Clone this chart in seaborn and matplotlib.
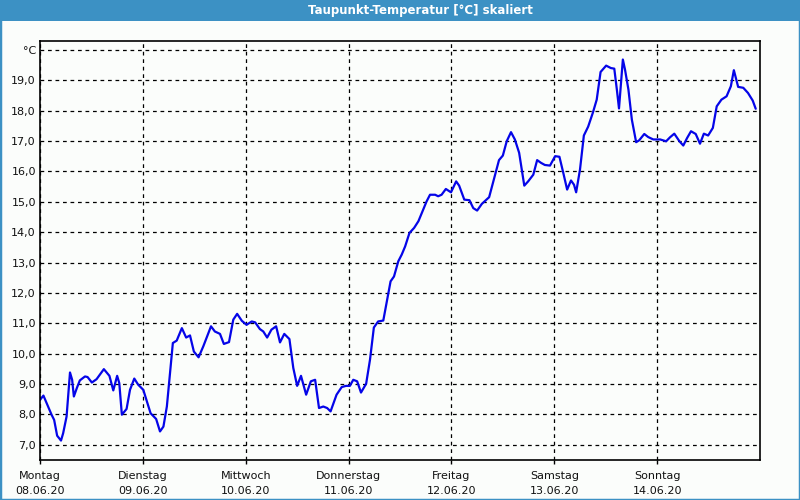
import matplotlib
matplotlib.use("Agg")
import matplotlib.pyplot as plt
import seaborn as sns
import pandas as pd
from matplotlib.patches import Rectangle

# ---- data (hours since Montag 08.06.20 00:00, dew point in °C) ----
hours = [0, 0.8, 2.7, 3.3, 4.0, 4.9, 5.4, 6.2, 7.0, 7.5, 7.9, 8.6, 9.3, 10.5, 11.1, 12.1,
         13.2, 14.9, 16.2, 17.1, 18.0, 18.5, 19.1, 20.2, 21.0, 22.0, 22.9, 24.1, 25.8, 27.1,
         28.0, 28.8, 29.6, 31.0, 31.9, 33.1, 34.1, 35.0, 35.9, 37.0, 38.1, 39.9, 40.8, 42.0,
         42.9, 44.1, 45.1, 46.0, 47.1, 48.2, 49.4, 50.2, 51.3, 52.1, 53.0, 54.0, 55.1, 56.0,
         57.0, 58.2, 59.1, 60.0, 60.9, 62.1, 63.2, 64.2, 65.1, 66.1, 67.0, 67.8, 69.2, 70.4,
         71.4, 72.3, 73.1, 74.0, 74.9, 76.1, 77.0, 77.9, 78.9, 80.1, 81.0, 81.8, 82.6, 83.6,
         84.4, 85.2, 86.2, 87.3, 88.3, 89.4, 90.2, 91.0, 92.2, 92.9, 93.7, 94.7, 95.9, 97.1,
         97.8, 99.0, 100.2, 101.1, 102.0, 103.1, 104.8, 105.9, 107.1, 108.0, 108.9, 109.9,
         110.8, 111.8, 113.0, 113.9, 115.1, 116.0, 116.9, 117.8, 119.0, 120.2, 121.2, 122.1,
         123.0, 123.9, 124.6, 125.1, 126.0, 126.9, 127.9, 129.0, 129.9, 130.8, 132.1, 133.2,
         134.0, 134.6, 135.1, 135.5, 136.0, 136.5, 137.3, 138.1, 139.1, 139.8, 141.0, 141.9,
         143.1, 144.7, 146.1, 147.0, 148.0, 149.2, 150.1, 151.0, 151.9, 153.0, 154.0, 154.9,
         155.9, 157.0, 157.9, 159.0, 160.2, 161.2, 161.9, 162.9, 164.1, 165.2, 166.3, 167.0]
dewpoint = [8.48, 8.62, 7.99, 7.82, 7.30, 7.14, 7.38, 7.93, 9.38, 9.14, 8.59, 8.87, 9.12, 9.25, 9.23, 9.05,
            9.16, 9.49, 9.27, 8.79, 9.27, 9.03, 7.99, 8.18, 8.81, 9.18, 8.98, 8.81, 8.04, 7.85,
            7.44, 7.60, 8.26, 10.35, 10.43, 10.84, 10.53, 10.60, 10.07, 9.88, 10.24, 10.90, 10.73, 10.65,
            10.32, 10.38, 11.12, 11.31, 11.08, 10.95, 11.06, 11.03, 10.81, 10.73, 10.53, 10.79, 10.90, 10.37,
            10.65, 10.48, 9.53, 8.94, 9.27, 8.65, 9.09, 9.14, 8.21, 8.26, 8.21, 8.10, 8.65, 8.90,
            8.94, 8.94, 9.14, 9.09, 8.72, 9.01, 9.80, 10.86, 11.06, 11.09, 11.78, 12.38, 12.54, 13.04,
            13.26, 13.53, 13.97, 14.14, 14.36, 14.74, 15.01, 15.23, 15.23, 15.18, 15.23, 15.42, 15.31, 15.67,
            15.53, 15.07, 15.05, 14.79, 14.71, 14.93, 15.15, 15.73, 16.37, 16.52, 16.99, 17.29,
            17.05, 16.61, 15.53, 15.67, 15.89, 16.37, 16.28, 16.21, 16.19, 16.50, 16.48, 15.95,
            15.40, 15.70, 15.56, 15.31, 16.06, 17.18, 17.47, 17.93, 18.36, 19.27, 19.48, 19.40,
            19.38, 18.69, 18.07, 18.80, 19.68, 19.35, 18.69, 17.70, 16.96, 17.02, 17.23, 17.13,
            17.05, 17.05, 16.99, 17.12, 17.24, 16.99, 16.85, 17.10, 17.32, 17.23, 16.91, 17.24,
            17.18, 17.43, 18.14, 18.36, 18.47, 18.80, 19.33, 18.78, 18.75, 18.58, 18.33, 18.06]

day_names = ["Montag", "Dienstag", "Mittwoch", "Donnerstag", "Freitag", "Samstag", "Sonntag"]
day_dates = ["08.06.20", "09.06.20", "10.06.20", "11.06.20", "12.06.20", "13.06.20", "14.06.20"]
y_ticks = [7, 8, 9, 10, 11, 12, 13, 14, 15, 16, 17, 18, 19, 20]
y_labels = ["7,0", "8,0", "9,0", "10,0", "11,0", "12,0", "13,0", "14,0", "15,0",
            "16,0", "17,0", "18,0", "19,0", "°C"]
title = "Taupunkt-Temperatur [°C] skaliert"

assert len(hours) == len(dewpoint)
df = pd.DataFrame({"hour": hours, "dewpoint": dewpoint})

sns.set_theme(style="white")
plt.rcParams["font.family"] = ["DejaVu Sans"]

bg = "#fbfdfb"
frame_blue = "#3c91c4"

fig = plt.figure(figsize=(8, 5), dpi=100, facecolor=bg)
ax = fig.add_axes([40 / 800, 40 / 500, 720 / 800, (460 - 40.7) / 500])
ax.set_facecolor(bg)

sns.lineplot(data=df, x="hour", y="dewpoint", ax=ax, color="#0505e8",
             linewidth=1.6, sort=False, estimator=None)

ax.set_xlim(0, 168)
ax.set_ylim(6.5, 20.3)
ax.set_xticks([24 * i for i in range(7)])
ax.set_xticklabels([f"{n}\n{d}" for n, d in zip(day_names, day_dates)],
                   fontsize=8, color="#111111", linespacing=1.55)
ax.set_yticks(y_ticks)
ax.set_yticklabels(y_labels, fontsize=8, color="#111111")
ax.set_xlabel("")
ax.set_ylabel("")
ax.grid(True, color="black", linestyle=(0, (3, 3)), linewidth=0.9)
ax.tick_params(axis="x", which="major", length=3, width=1, color="black", pad=5, direction="out", bottom=True)
ax.tick_params(axis="y", which="major", length=0, pad=3, left=True)
for s in ax.spines.values():
    s.set_color("black")
    s.set_linewidth(1.2)

# window frame and title bar
fig.patches.append(Rectangle((0, 1 - 21 / 500), 1, 21 / 500, transform=fig.transFigure,
                             facecolor=frame_blue, edgecolor="none", zorder=0))
fig.patches.append(Rectangle((0, 0), 1, 1, transform=fig.transFigure, facecolor="none",
                             edgecolor=frame_blue, linewidth=2.5, zorder=5))
fig.text(420 / 800, 1 - 10.5 / 500, title, color="white", fontsize=8.5, fontweight="bold",
         ha="center", va="center")

fig.savefig("out.png", dpi=100, facecolor=bg)
